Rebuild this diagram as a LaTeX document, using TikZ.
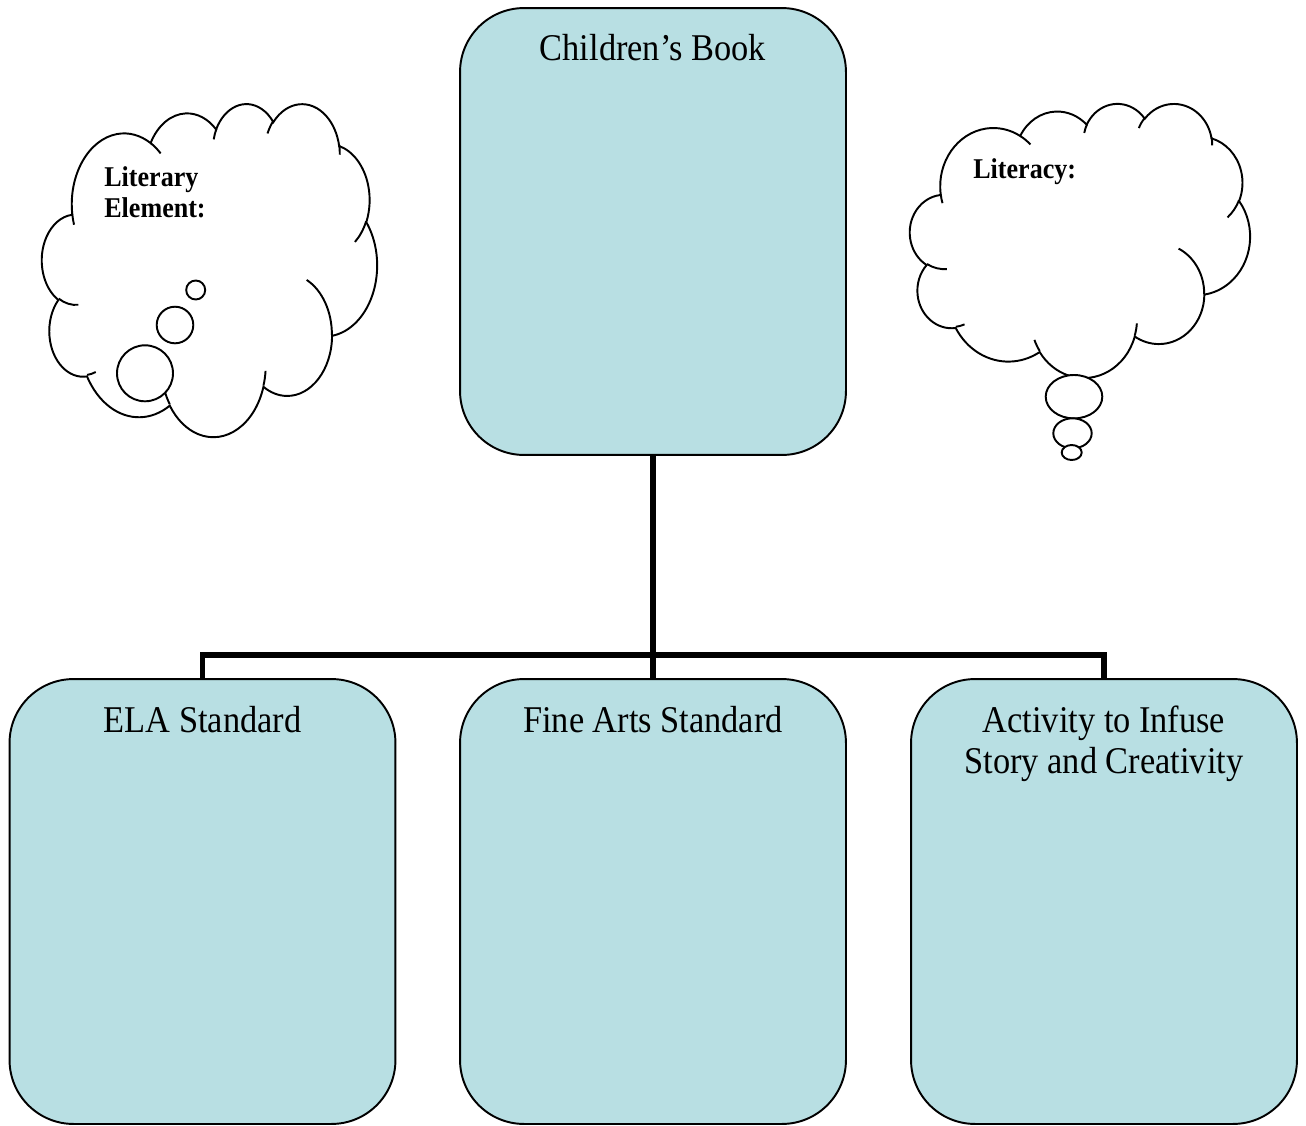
\documentclass[tikz,border=0pt]{standalone}
\usepackage{fontspec}
\setmainfont[FakeStretch=0.91]{Liberation Serif}
\definecolor{boxfill}{RGB}{184,223,227}
\newcommand\cloudarc[4]{arc[x radius=#1, y radius=#2,
  start angle={atan2(#1*sin(#3),#2*cos(#3))},
  delta angle={mod(atan2(#1*sin(#3+#4),#2*cos(#3+#4))-atan2(#1*sin(#3),#2*cos(#3))+720,360)}]}
\newcommand\cloudpath{(3.9,14.37)
  \cloudarc{6.753}{9.190}{-190.4875}{123.7805}
  \cloudarc{5.333}{7.267}{-144.1024}{89.9452}
  \cloudarc{4.365}{5.945}{-145.8079}{99.7230}
  \cloudarc{4.857}{6.595}{-130.9861}{117.2417}
  \cloudarc{5.333}{7.273}{-78.7089}{109.0269}
  \cloudarc{6.775}{9.220}{-46.2673}{130.2690}
  \cloudarc{5.785}{7.867}{0.6250}{114.0333}
  \cloudarc{6.752}{9.215}{22.4516}{115.1726}
  \cloudarc{7.720}{10.543}{66.2426}{75.7110}
  \cloudarc{4.360}{5.918}{-274.9421}{146.7356}
  \cloudarc{4.345}{5.945}{-246.8285}{152.5189} -- cycle}
\newcommand\cloudfolds{(4.693,26.177) \cloudarc{4.345}{5.945}{86.742}{26.4295}
  (6.928,34.899) \cloudarc{4.360}{5.918}{73.6105}{11.4475}
  (16.478,39.090) \cloudarc{6.752}{9.215}{137.6242}{14.0811}
  (28.827,34.751) \cloudarc{6.752}{9.215}{6.4533}{15.9984}
  (34.129,22.954) \cloudarc{5.785}{7.867}{-70.2924}{70.9174}
  (41.798,15.354) \cloudarc{5.333}{7.273}{30.3180}{27.7515}
  (38.324,5.426) \cloudarc{4.857}{6.595}{-13.7443}{14.8589}
  (29.078,3.952) \cloudarc{4.857}{6.595}{-149.1815}{18.1954}
  (22.141,4.720) \cloudarc{4.365}{5.945}{-163.4943}{17.6864}
  (14.000,5.192) \cloudarc{6.753}{9.190}{-66.7070}{12.3194}
  (4.127,15.789) \cloudarc{6.753}{9.190}{157.6544}{11.8582}}
\tikzset{
  box/.style={draw, line width=1.1pt, fill=boxfill, rounded corners=1.28cm,
    minimum width=7.72cm, inner sep=0pt},
  heading/.style={font=\fontsize{21.5}{23.3}\selectfont, align=center, anchor=base},
  thought/.style={font=\fontsize{16.3}{17.6}\selectfont\bfseries, align=left,
    anchor=base west, inner sep=0pt},
  link/.style={line width=3.3pt},
  puff/.style={draw, line width=1.1pt, fill=white}
}
\begin{document}
\begin{tikzpicture}[x=0.02cm, y=-0.02cm]
\useasboundingbox (0,0) rectangle (1306,1126);
\node[box, minimum height=8.94cm] (book) at (653,231.5) {};
\node[box, minimum height=8.9cm] (ela) at (202.5,901.5) {};
\node[box, minimum height=8.9cm] (arts) at (653,901.5) {};
\node[box, minimum height=8.9cm] (task) at (1104,901.5) {};
\coordinate (hub) at (653,655);
\draw[link] (book.south) -- (hub) -- (arts.north);
\draw[link] (ela.north) |- (hub) -| (task.north);
\node[heading] (booktitle) at (653,60) {Children’s Book};
\node[heading] (elatitle) at (202.5,732) {ELA Standard};
\node[heading] (artstitle) at (653,732) {Fine Arts Standard};
\node[heading] (tasktitle) at (1104,773) {Activity to Infuse\\Story and Creativity};
\begin{scope}[shift={(42,103)}, xscale=7.755, yscale=7.708]
\draw[puff] \cloudpath;
\draw[line width=1.1pt] \cloudfolds;
\end{scope}
\draw[puff] (195.7,290) circle[radius=9.5];
\draw[puff] (175,325) circle[radius=18.3];
\draw[puff] (145,373.3) circle[radius=28];
\begin{scope}[shift={(910,103)}, xscale=7.870, yscale=6.343]
\draw[puff] \cloudpath;
\draw[line width=1.1pt] \cloudfolds;
\end{scope}
\draw[puff] (1074,396.7) ellipse[x radius=28.3, y radius=21.7];
\draw[puff] (1072.5,433.3) ellipse[x radius=19.2, y radius=15];
\draw[puff] (1071.7,452.5) ellipse[x radius=10, y radius=7.5];
\node[thought] (element) at (104,217) {Literary\\Element:};
\node[thought] (literacy) at (973,178) {Literacy:};
\end{tikzpicture}
\end{document}
